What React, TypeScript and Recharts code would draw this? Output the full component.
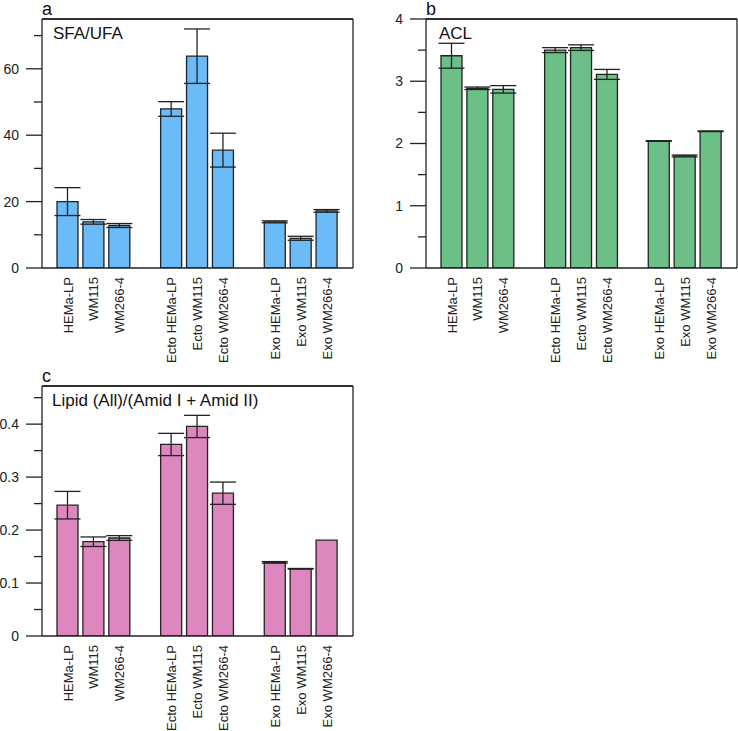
import React from "react";
import { BarChart, Bar, XAxis, YAxis, ErrorBar, ReferenceLine } from "recharts";

const categories = [
  "HEMa-LP", "WM115", "WM266-4",
  "Ecto HEMa-LP", "Ecto WM115", "Ecto WM266-4",
  "Exo HEMa-LP", "Exo WM115", "Exo WM266-4",
];

const sfaUfa = [20.0, 13.9, 12.8, 47.9, 63.8, 35.5, 13.9, 8.95, 17.2];
const sfaUfaErr = [4.2, 0.7, 0.6, 2.2, 8.2, 5.1, 0.3, 0.6, 0.4];

const acl = [3.41, 2.887, 2.87, 3.5, 3.54, 3.11, 2.04, 1.8, 2.196];
const aclErr = [0.2, 0.02, 0.06, 0.04, 0.045, 0.08, 0.005, 0.015, 0.005];

const lipid = [0.247, 0.178, 0.185, 0.3616, 0.3956, 0.2696, 0.139, 0.127, 0.181];
const lipidErr = [0.026, 0.009, 0.0045, 0.021, 0.021, 0.021, 0.0015, 0.0005, 0];

const sfaTicks = [0, 10, 20, 30, 40, 50, 60, 70];
const sfaLabels = [0, 20, 40, 60];
const aclTicks = [0, 0.5, 1, 1.5, 2, 2.5, 3, 3.5, 4];
const aclLabels = [0, 1, 2, 3, 4];
const lipidTicks = [0, 0.05, 0.1, 0.15, 0.2, 0.25, 0.3, 0.35, 0.4, 0.45];
const lipidLabels = [0, 0.1, 0.2, 0.3, 0.4];

const GROUP = 3;
const FONT = "'Liberation Sans', Arial, sans-serif";
const INK = "#222";

// rows with an empty slot between each group of three
function buildRows(values: number[], errs: number[]) {
  const rows: { key: string; label: string; value: number | null; err: number | null }[] = [];
  categories.forEach((c, i) => {
    if (i > 0 && i % GROUP === 0) rows.push({ key: "gap" + i, label: "", value: null, err: null });
    rows.push({ key: c, label: c, value: values[i], err: errs[i] });
  });
  return rows;
}

const XTick = (props: any) => {
  const { x, y, index, labels } = props;
  const text = labels[index];
  if (!text) return null;
  return (
    <text
      x={x}
      y={y}
      transform={`rotate(-90, ${x}, ${y})`}
      textAnchor="end"
      dy="0.35em"
      fontSize={13}
      fontFamily={FONT}
      fill={INK}
    >
      {text}
    </text>
  );
};

const YTick = (props: any) => {
  const { x, y, payload, labels } = props;
  const v = payload.value;
  const major = labels.some((l: number) => Math.abs(l - v) < 1e-9);
  const len = major ? 16 : 8;
  return (
    <g>
      <line x1={x + 16 - len} x2={x + 16} y1={y} y2={y} stroke={INK} strokeWidth={1.3} />
      {major && (
        <text x={x - 7} y={y} dy="0.35em" textAnchor="end" fontSize={14} fontFamily={FONT} fill={INK}>
          {String(v)}
        </text>
      )}
    </g>
  );
};

interface PanelProps {
  values: number[];
  errs: number[];
  color: string;
  domain: [number, number];
  ticks: number[];
  labels: number[];
  width: number;
  height: number;
  right: number;
}

const Panel: React.FC<PanelProps> = ({ values, errs, color, domain, ticks, labels, width, height, right }) => {
  const rows = buildRows(values, errs);
  const rowLabels = rows.map((r) => r.label);
  return (
    <BarChart
      width={width}
      height={height}
      data={rows}
      margin={{ top: 18, right: right - 1, bottom: 0, left: 0 }}
      barSize={21}
    >
      <XAxis
        dataKey="key"
        interval={0}
        height={95}
        padding={{ left: 13, right: 13 }}
        tickSize={6}
        tickMargin={3}
        tickLine={false}
        axisLine={{ stroke: INK, strokeWidth: 1.3 }}
        tick={<XTick labels={rowLabels} />}
      />
      <XAxis
        xAxisId="top"
        dataKey="key"
        orientation="top"
        height={1}
        tick={false}
        tickLine={false}
        axisLine={{ stroke: INK, strokeWidth: 1.3 }}
      />
      <YAxis
        width={42}
        domain={domain}
        allowDataOverflow
        ticks={ticks}
        interval={0}
        tickSize={16}
        tickMargin={0}
        tickLine={false}
        axisLine={{ stroke: INK, strokeWidth: 1.3 }}
        tick={<YTick labels={labels} />}
      />
      <YAxis
        yAxisId="right"
        orientation="right"
        width={1}
        domain={domain}
        tick={false}
        tickLine={false}
        axisLine={{ stroke: INK, strokeWidth: 1.3 }}
      />
      <ReferenceLine y={domain[1]} stroke={INK} strokeWidth={1.3} ifOverflow="extendDomain" />
      <Bar dataKey="value" fill={color} stroke={INK} strokeWidth={1.3} isAnimationActive={false}>
        <ErrorBar dataKey="err" width={13} stroke={INK} strokeWidth={1.3} />
      </Bar>
    </BarChart>
  );
};

const textStyle = { fontFamily: FONT, fill: "#111" };

export default function App() {
  return (
    <div style={{ position: "absolute", left: 0, top: 0, width: 738, height: 731, background: "#fff" }}>
      <div style={{ position: "absolute", left: 0, top: 0 }}>
        <Panel values={sfaUfa} errs={sfaUfaErr} color="#6BBBF9" domain={[0, 75]} ticks={sfaTicks} labels={sfaLabels} width={370} height={363} right={17} />
      </div>
      <div style={{ position: "absolute", left: 384, top: 0 }}>
        <Panel values={acl} errs={aclErr} color="#6BBF87" domain={[0, 4]} ticks={aclTicks} labels={aclLabels} width={354} height={363} right={1} />
      </div>
      <div style={{ position: "absolute", left: 0, top: 367 }}>
        <Panel values={lipid} errs={lipidErr} color="#DE87BF" domain={[0, 0.472]} ticks={lipidTicks} labels={lipidLabels} width={370} height={364} right={17} />
      </div>
      <svg width={738} height={731} style={{ position: "absolute", left: 0, top: 0, pointerEvents: "none" }}>
        <text x={42} y={14.5} fontSize={18} style={textStyle}>a</text>
        <text x={426} y={14.5} fontSize={18} style={textStyle}>b</text>
        <text x={42} y={381.5} fontSize={18} style={textStyle}>c</text>
        <text x={53} y={39} fontSize={17} style={textStyle}>SFA/UFA</text>
        <text x={439} y={39} fontSize={17} style={textStyle}>ACL</text>
        <text x={52} y={406} fontSize={17} style={textStyle}>Lipid (All)/(Amid I + Amid II)</text>
      </svg>
    </div>
  );
}
